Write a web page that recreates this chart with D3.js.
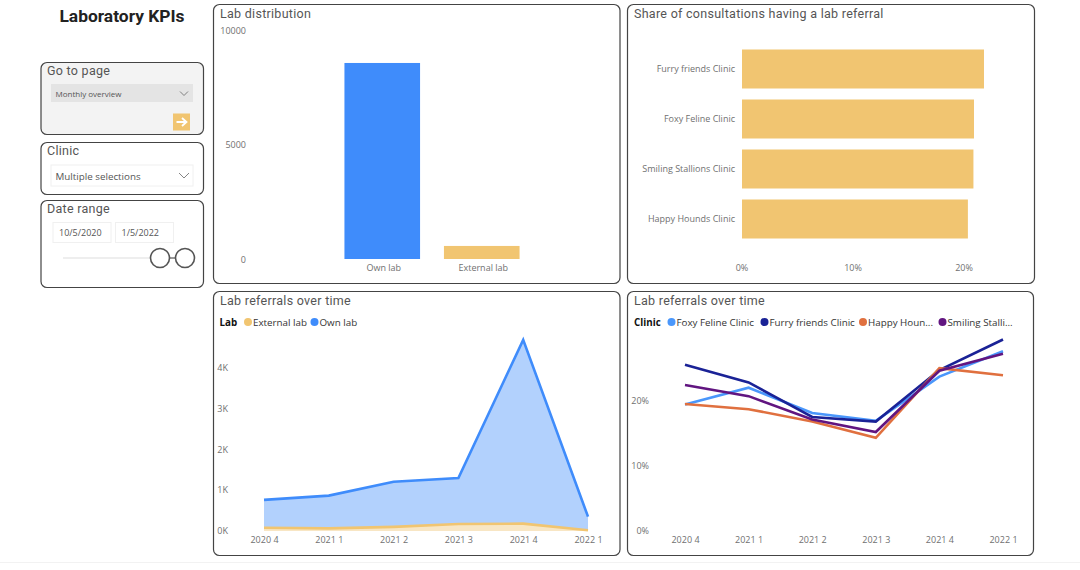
<!DOCTYPE html>
<html><head><meta charset="utf-8">
<script src="https://cdn.jsdelivr.net/npm/d3@7"></script>
<style>
html,body{margin:0;padding:0;background:#fff;overflow:hidden}
svg{display:block}
text{font-family:"Open Sans",sans-serif}
.ttl{font-family:"Roboto","Noto Sans",sans-serif;font-size:12.5px;fill:#555;letter-spacing:.28px}
.tick text{fill:#707070;font-size:9px}
.leg{font-size:9.8px;fill:#333}
</style></head><body>
<svg id="c" width="1080" height="570"></svg>
<script>
const labCats=["Own lab","External lab"];
const labVals=[8560,570];
const clinicCats=["Furry friends Clinic","Foxy Feline Clinic","Smiling Stallions Clinic","Happy Hounds Clinic"];
const clinicShare=[21.8,20.9,20.85,20.35];
const quarters=["2020 4","2021 1","2021 2","2021 3","2021 4","2022 1"];
const ownLab=[760,865,1205,1295,4670,350];
const externalLab=[80,65,100,170,180,20];
const foxy=[19.4,22.0,18.1,16.9,23.7,27.6];
const furry=[25.5,22.8,17.5,16.8,24.7,29.4];
const happy=[19.5,18.7,16.8,14.3,25.0,23.9];
const smiling=[22.4,20.7,17.1,15.2,24.6,27.2];
const blue="#3f8cfb",gold="#f1c571",navy="#1a2296",orange="#e0703f",purple="#611580",sky="#4a97fb";

const svg=d3.select("#c");
function panel(x,y,w,h,fill){svg.append("rect").attr("x",x+.5).attr("y",y+.5).attr("width",w).attr("height",h).attr("rx",6).attr("fill",fill||"#fff").attr("stroke","#444").attr("stroke-width",1.2);}
function title(s,x,y){return svg.append("text").attr("class","ttl").attr("x",x).attr("y",y).text(s);}
function clean(g){g.select(".domain").remove();g.selectAll(".tick line").remove();return g;}

// left column
svg.append("text").attr("x",122).attr("y",22).attr("text-anchor","middle").style("font-family","Roboto,sans-serif").style("font-weight",700).style("font-size","17.4px").attr("fill","#222").text("Laboratory KPIs");
panel(40.5,62,162.5,72,"#f3f3f3");
title("Go to page",47,75);
svg.append("rect").attr("x",51).attr("y",84).attr("width",142).attr("height",18).attr("fill","#e4e4e4");
svg.append("text").attr("x",55.5).attr("y",97).style("font-size","8px").attr("fill","#555").text("Monthly overview");
const chev=(x,y,s)=>svg.append("path").attr("d",`M${x-s},${y-s/2}L${x},${y+s/2}L${x+s},${y-s/2}`).attr("fill","none").attr("stroke","#666").attr("stroke-width",.8);
chev(184,93.5,4);
svg.append("rect").attr("x",173).attr("y",113.5).attr("width",17).attr("height",17).attr("fill",gold);
svg.append("path").attr("d","M176.5,122H186M182,118L186.5,122L182,126").attr("fill","none").attr("stroke","#fff").attr("stroke-width",1.8);
panel(40.5,142,162.5,52);
title("Clinic",47,155);
svg.append("rect").attr("x",51).attr("y",165).attr("width",142).attr("height",21).attr("fill","#fff").attr("stroke","#f0f0f0");
svg.append("text").attr("x",55.5).attr("y",180).style("font-size","9.8px").attr("fill","#555").text("Multiple selections");
chev(184,175.5,5);
panel(40.5,200,162.5,87);
title("Date range",47,213);
[[53,58,"10/5/2020"],[115.5,58,"1/5/2022"]].forEach(d=>{
 svg.append("rect").attr("x",d[0]).attr("y",222.5).attr("width",d[1]).attr("height",20).attr("fill","#fff").attr("stroke","#f0f0f0");
 svg.append("text").attr("x",d[0]+6).attr("y",236).style("font-size","9px").attr("fill","#555").text(d[2]);
});
svg.append("line").attr("x1",63).attr("x2",160).attr("y1",258).attr("y2",258).attr("stroke","#eee").attr("stroke-width",2);
svg.append("line").attr("x1",160).attr("x2",185).attr("y1",258).attr("y2",258).attr("stroke","#555").attr("stroke-width",1.2);
[160,185].forEach(cx=>svg.append("circle").attr("cx",cx).attr("cy",258).attr("r",9.5).attr("fill","#fff").attr("stroke","#555").attr("stroke-width",1.6));

// bar chart
panel(213,4,406.5,279);
title("Lab distribution",220,18);
{
 const y=d3.scaleLinear().domain([0,10000]).range([259,30]);
 const x=d3.scaleBand().domain(labCats).range([333,532]).paddingInner(.24).paddingOuter(.12);
 clean(svg.append("g").attr("transform","translate(249,0.5)").call(d3.axisLeft(y).tickValues([0,5000,10000]).tickFormat(d3.format("d")).tickSize(0)));
 svg.selectAll(".b1").data(labCats).join("rect").attr("x",d=>x(d)-.5).attr("width",x.bandwidth()).attr("y",(d,i)=>y(labVals[i])).attr("height",(d,i)=>y(0)-y(labVals[i])).attr("fill",(d,i)=>i?gold:blue);
 clean(svg.append("g").attr("transform","translate(1,262)").call(d3.axisBottom(x).tickSize(0)));
}
// horizontal bars
panel(627,4,407,279);
title("Share of consultations having a lab referral",634,18);
{
 const x=d3.scaleLinear().domain([0,20]).range([742,964]);
 const y=d3.scaleBand().domain(clinicCats).range([44,244]).paddingInner(.22).paddingOuter(.11);
 svg.selectAll(".b2").data(clinicCats).join("rect").attr("x",x(0)).attr("y",d=>y(d)).attr("height",y.bandwidth()).attr("width",(d,i)=>x(clinicShare[i])-x(0)).attr("fill",gold);
 clean(svg.append("g").attr("transform","translate(738,0.5)").call(d3.axisLeft(y).tickSize(0)));
 clean(svg.append("g").attr("transform","translate(-0.5,262)").call(d3.axisBottom(x).tickValues([0,10,20]).tickFormat(d=>d+"%").tickSize(0)));
}
function legend(items,xs,label){
 svg.append("text").attr("x",label[1]).attr("y",325.5).style("font-size","9.8px").style("font-weight",700).attr("fill","#111").text(label[0]);
 items.forEach((d,i)=>{
  svg.append("circle").attr("cx",xs[i]).attr("cy",322).attr("r",4).attr("fill",d[1]);
  svg.append("text").attr("class","leg").attr("x",xs[i]+5).attr("y",325.5).text(d[0]);
 });
}
// area chart
panel(213,291,406.5,264);
title("Lab referrals over time",220,305);
legend([["External lab",gold],["Own lab",blue]],[248,314.5],["Lab",219.5]);
{
 const x=d3.scalePoint().domain(quarters).range([264,588]);
 const y=d3.scaleLinear().domain([0,4000]).range([531,367.3]);
 const ar=v=>d3.area().x((d,i)=>x(quarters[i])).y0(y(0)).y1(d=>y(d))(v);
 const ln=v=>d3.line().x((d,i)=>x(quarters[i])).y(d=>y(d))(v);
 svg.append("path").attr("d",ar(ownLab)).attr("fill",blue).attr("fill-opacity",.4);
 svg.append("path").attr("d",ar(externalLab)).attr("fill","#f8e6c4");
 svg.append("path").attr("d",ln(ownLab)).attr("fill","none").attr("stroke",blue).attr("stroke-width",2.6);
 svg.append("path").attr("d",ln(externalLab)).attr("fill","none").attr("stroke",gold).attr("stroke-width",2.6);
 clean(svg.append("g").attr("transform","translate(231,0)").call(d3.axisLeft(y).tickValues([0,1000,2000,3000,4000]).tickFormat(d=>d/1000+"K").tickSize(0)));
 clean(svg.append("g").attr("transform","translate(0,534)").call(d3.axisBottom(x).tickSize(0)));
}
// line chart
panel(627,291,406,264);
title("Lab referrals over time",634,305);
legend([["Foxy Feline Clinic",sky],["Furry friends Clinic",navy],["Happy Houn...",orange],["Smiling Stalli...",purple]],[671.5,764.5,863,942.5],["Clinic",634]);
{
 const x=d3.scalePoint().domain(quarters).range([685,1003]);
 const y=d3.scaleLinear().domain([0,20]).range([531,400.7]);
 const ln=d3.line().x((d,i)=>x(quarters[i])).y(d=>y(d));
 [[foxy,sky],[furry,navy],[happy,orange],[smiling,purple]].forEach(s=>svg.append("path").attr("d",ln(s[0])).attr("fill","none").attr("stroke",s[1]).attr("stroke-width",2.6));
 clean(svg.append("g").attr("transform","translate(652,0)").call(d3.axisLeft(y).tickValues([0,10,20]).tickFormat(d=>d+"%").tickSize(0)));
 clean(svg.append("g").attr("transform","translate(0,534)").call(d3.axisBottom(x).tickSize(0)));
}
svg.append("line").attr("x1",0).attr("x2",1080).attr("y1",562.5).attr("y2",562.5).attr("stroke","#f2f2f2");
</script></body></html>
